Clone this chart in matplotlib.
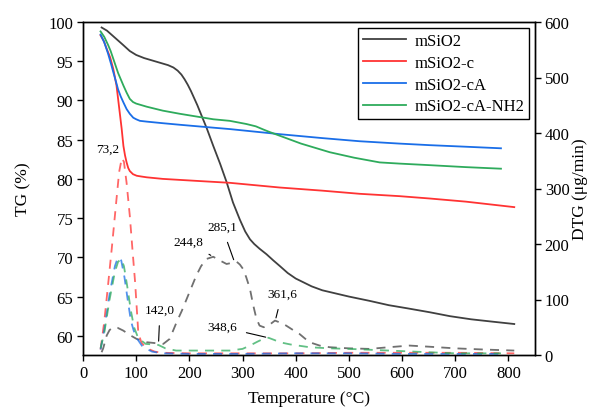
import matplotlib
matplotlib.use("Agg")
import matplotlib.pyplot as plt
import numpy as np

plt.rcParams['font.family'] = ['Liberation Serif', 'DejaVu Serif']

labels = ["mSiO2", "mSiO2-c", "mSiO2-cA", "mSiO2-cA-NH2"]
colors = ["#404040", "#ff3333", "#1a6ee8", "#2eab5c"]

# TG curves (left axis, %)
tg_black_x = [35, 45, 55, 65, 75, 88, 100, 115, 130, 145, 160, 170, 178, 185, 191, 197, 203, 209, 215, 221, 227, 233, 245, 258, 270, 282, 295, 305, 314, 322, 332, 345, 358, 370, 385, 400, 415, 430, 450, 475, 500, 539, 575, 610, 652, 690, 730, 770, 811]
tg_black_y = [99.3, 98.9, 98.3, 97.7, 97.1, 96.3, 95.8, 95.4, 95.1, 94.8, 94.5, 94.2, 93.8, 93.3, 92.7, 92.0, 91.2, 90.3, 89.4, 88.4, 87.4, 86.4, 84.2, 81.9, 79.6, 77.0, 74.8, 73.3, 72.3, 71.7, 71.1, 70.4, 69.6, 68.9, 68.0, 67.3, 66.8, 66.3, 65.8, 65.4, 65.0, 64.45, 63.9, 63.5, 63.0, 62.5, 62.1, 61.8, 61.5]
tg_red_x = [33, 39, 44.5, 51, 57, 63, 69, 72.7, 76, 79, 82, 85, 88, 94, 101, 110, 120, 150, 200, 276, 370, 450, 520, 595, 652, 720, 811]
tg_red_y = [98.3, 97.6, 96.6, 95.5, 94.0, 91.9, 88.5, 86.4, 84.2, 83.0, 82.1, 81.4, 81.0, 80.6, 80.4, 80.3, 80.2, 80.0, 79.8, 79.5, 78.9, 78.5, 78.1, 77.8, 77.5, 77.1, 76.4]
tg_blue_x = [33, 40, 47, 53, 57, 62, 66, 71, 76, 82, 88, 94.5, 100, 107, 120, 150, 182, 250, 276, 370, 450, 520, 595, 652, 720, 786]
tg_blue_y = [98.4, 97.4, 96.0, 94.6, 93.6, 92.4, 91.4, 90.5, 89.75, 88.9, 88.3, 87.8, 87.6, 87.4, 87.3, 87.1, 86.9, 86.5, 86.35, 85.7, 85.2, 84.8, 84.5, 84.3, 84.1, 83.9]
tg_green_x = [33, 40, 47, 52, 57, 62, 66, 71, 76, 82, 88, 94, 100, 110, 120, 150, 182, 245, 276, 307, 325, 339, 350, 370, 410, 464, 510, 558, 595, 652, 720, 786]
tg_green_y = [98.8, 98.1, 97.1, 96.3, 95.3, 94.3, 93.5, 92.7, 91.9, 91.0, 90.2, 89.8, 89.6, 89.4, 89.2, 88.7, 88.3, 87.6, 87.4, 87.0, 86.7, 86.3, 86.0, 85.5, 84.5, 83.4, 82.7, 82.1, 81.95, 81.75, 81.5, 81.3]

# DTG curves (right axis, ug/min)
dtg_black_x = [35, 38, 44.5, 50, 57, 65, 75.7, 88, 100.8, 120, 140, 151, 163, 176, 186, 195, 204, 213, 222, 232, 245, 258, 270, 280, 289, 295, 301, 307, 314, 320, 326, 332, 340, 350, 361, 372, 382, 395, 407, 417, 426, 445, 464, 500, 539, 575, 614, 650, 700, 750, 811]
dtg_black_y = [5, 12, 35, 45, 50, 49, 44, 36, 29, 23, 21, 20, 29, 59, 80, 101, 122, 143, 160, 173, 177, 170, 164, 166, 168, 163, 155, 140, 119, 90, 66, 53, 50, 54, 62, 58, 53, 45, 38, 30, 23, 17, 14, 12, 11, 14, 17, 15, 12, 10, 8]
dtg_red_x = [33, 40, 47, 54, 63, 68, 73, 77, 82, 88, 93, 98, 104, 110, 120, 135, 150, 200, 300, 400, 500, 600, 700, 811]
dtg_red_y = [10, 60, 125, 191, 281, 330, 355, 348, 310, 251, 190, 131, 40, 22, 12, 6, 4, 3, 3, 3, 4, 4, 4, 3]
dtg_blue_x = [33, 40, 50, 60, 65, 68, 72, 78, 84, 90, 95, 100, 112, 130, 150, 200, 300, 400, 500, 600, 700, 786]
dtg_blue_y = [10, 45, 110, 160, 174, 176, 170, 140, 100, 62, 45, 32, 15, 6, 3, 2, 2, 3, 3, 2, 2, 2]
dtg_green_x = [33, 40, 50, 60, 66, 72, 77, 83, 90, 96, 104, 118, 132, 142, 155, 175, 200, 250, 276, 300, 314, 328, 339, 349, 360, 370, 390, 426, 464, 501, 550, 600, 650, 700, 786]
dtg_green_y = [12, 40, 100, 150, 168, 173, 160, 125, 80, 50, 30, 20, 19, 18, 12, 8, 8, 8, 8, 11, 17, 24, 29, 31, 27, 23, 19, 14, 12, 11, 9, 7, 5, 3, 3]

annotations = [
    ("73,2", (73, 355), (108, 150), False),
    ("142,0", (142, 20), (160, 311), True),
    ("244,8", (244.8, 177), (188, 243), True),
    ("285,1", (285.1, 167), (222, 228), True),
    ("348,6", (348.6, 31), (222, 328), True),
    ("361,6", (361.6, 62), (282, 295), True),
]

W, H = 589, 410
fig = plt.figure(figsize=(W / 100, H / 100), dpi=100)
ax = fig.add_axes([83 / W, 1 - 356 / H, (535 - 83) / W, (356 - 23) / H])
ax2 = ax.twinx()

tg = [(tg_black_x, tg_black_y), (tg_red_x, tg_red_y), (tg_blue_x, tg_blue_y), (tg_green_x, tg_green_y)]
dtg = [(dtg_black_x, dtg_black_y), (dtg_red_x, dtg_red_y), (dtg_blue_x, dtg_blue_y), (dtg_green_x, dtg_green_y)]

handles = []
for (x, y), c, lab in zip(tg, colors, labels):
    h, = ax.plot(x, y, color=c, lw=1.3, label=lab)
    handles.append(h)
for (x, y), c in zip(dtg, colors):
    ax2.plot(x, y, color=c, lw=1.3, ls=(0, (5, 4)), alpha=0.75)

ax.set_xlim(0, 850)
ax.set_ylim(57.55, 100)
ax.set_yticks(np.arange(60, 101, 5))
ax.set_xticks(np.arange(0, 801, 100))
ax2.set_ylim(0, 600)
ax2.set_yticks(np.arange(0, 601, 100))

for a in (ax, ax2):
    a.tick_params(direction='out', labelsize=12, length=4, width=1, pad=3)
    for s in a.spines.values():
        s.set_linewidth(1.0)

ax.set_xlabel("Temperature (°C)", fontsize=12.5, labelpad=7)
ax.set_ylabel("TG (%)", fontsize=12.5, labelpad=12)
ax2.set_ylabel("DTG (μg/min)", fontsize=12.5, labelpad=2)

fig.canvas.draw()
inv = ax2.transData.inverted()
for text, xy, tpix, line in annotations:
    txy = inv.transform((tpix[0], H - tpix[1]))
    ax2.annotate(text, xy=xy, xytext=txy, fontsize=9.5, ha='center', va='center',
                 arrowprops=dict(arrowstyle='-', color='black', lw=0.8, shrinkA=5, shrinkB=2) if line else None)

leg = ax.legend(handles=handles, loc='upper right', fontsize=12, frameon=True, fancybox=False,
                edgecolor='black', framealpha=1, borderaxespad=0.35, handlelength=2.6,
                borderpad=0.3, labelspacing=0.35, handletextpad=0.5)
leg.get_frame().set_linewidth(1.0)

fig.savefig("out.png", dpi=100)
